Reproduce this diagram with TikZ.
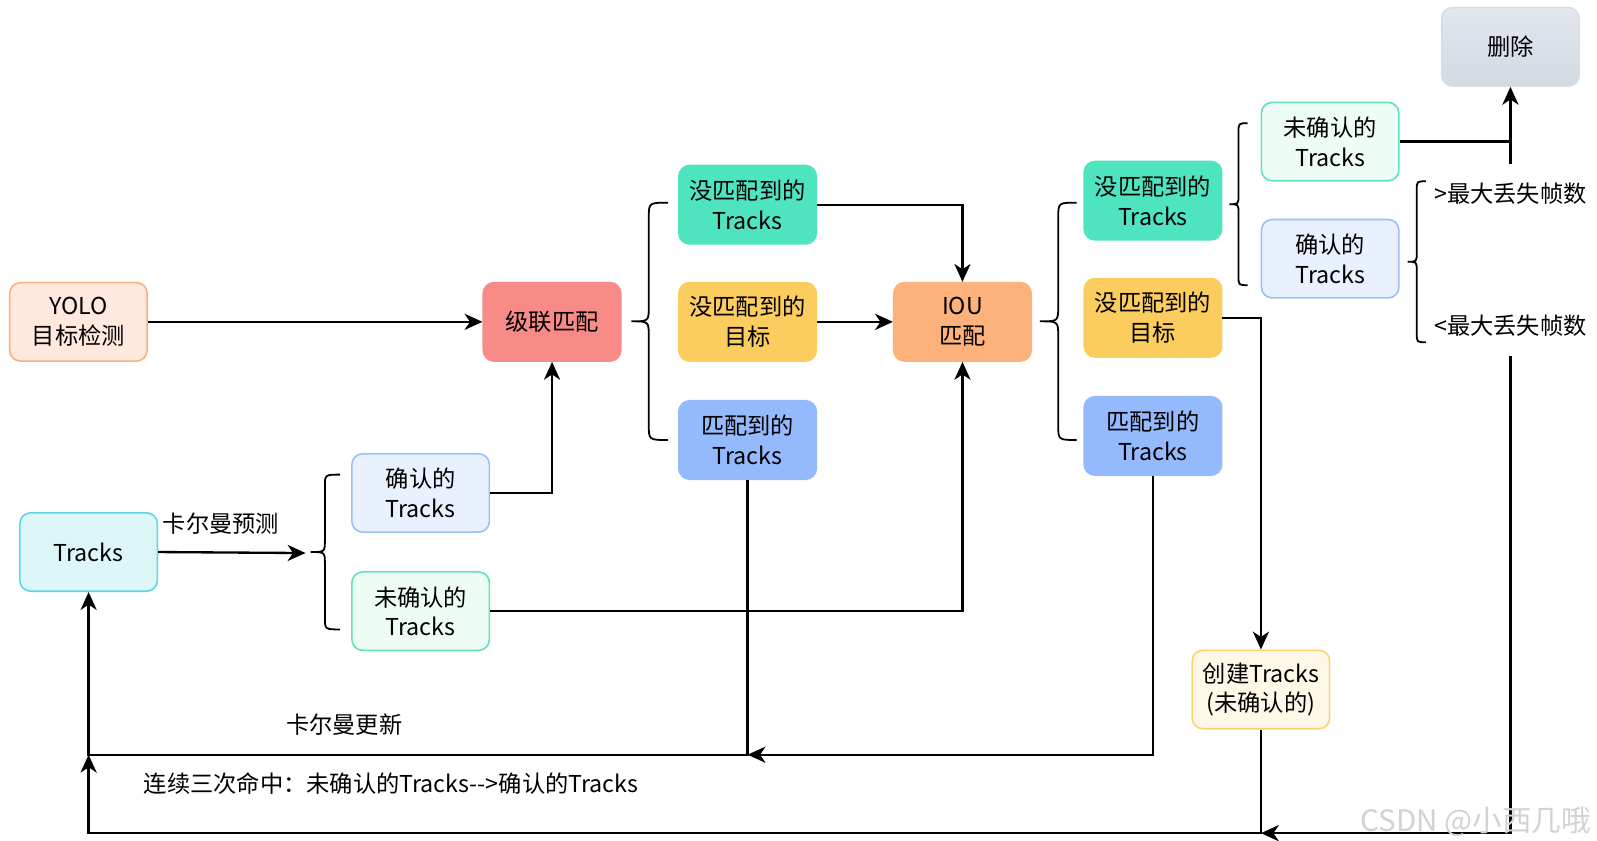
\documentclass[tikz,border=0pt]{standalone}
\usepackage{fontspec}
\newfontfamily\cjk{Noto Sans CJK SC}
\usetikzlibrary{positioning, arrows.meta}

\definecolor{yoloFill}{HTML}{FFE8DE}
\definecolor{yoloLine}{HTML}{F9B07D}
\definecolor{cascFill}{HTML}{F88A88}
\definecolor{greenFill}{HTML}{4DE4BF}
\definecolor{yellowFill}{HTML}{FBCC5E}
\definecolor{blueFill}{HTML}{94B9FD}
\definecolor{iouFill}{HTML}{FCB27A}
\definecolor{mintFill}{HTML}{EEFDF4}
\definecolor{mintLine}{HTML}{60E3B7}
\definecolor{skyFill}{HTML}{EAF1FE}
\definecolor{skyLine}{HTML}{9CBFF8}
\definecolor{cyanFill}{HTML}{DDF7F9}
\definecolor{cyanLine}{HTML}{5BD8E6}
\definecolor{newFill}{HTML}{FFF8E7}
\definecolor{newLine}{HTML}{FCD270}
\definecolor{delTop}{HTML}{E2E7ED}
\definecolor{delBot}{HTML}{D2DAE2}
\definecolor{delLine}{HTML}{D7DEE5}

% curly brace opening to the right: end x, stem x, tip x, top y, bottom y, corner radius
\newcommand{\curlybrace}[6]{%
  \draw[line width=1pt]
    (#1,#4) .. controls (#2,#4) .. (#2,#4+#6)
    -- (#2,{(#4+#5)/2-#6}) .. controls (#2,{(#4+#5)/2}) .. (#3,{(#4+#5)/2})
    .. controls (#2,{(#4+#5)/2}) .. (#2,{(#4+#5)/2+#6})
    -- (#2,#5-#6) .. controls (#2,#5) .. (#1,#5);}

\begin{document}
\begin{tikzpicture}[
  x=0.02cm, y=-0.02cm,
  font=\cjk\fontsize{13}{16.5}\selectfont,
  box/.style={draw, rounded corners=6pt, line width=0.9pt, align=center,
    minimum width=2.7cm, minimum height=1.54cm, inner sep=2pt},
  solid box/.style={box, draw=#1, fill=#1},
  pale box/.style 2 args={box, draw=#2, fill=#1},
  flow/.style={-{Stealth[length=10pt, width=9pt, inset=3pt]}, line width=1.3pt},
  wire/.style={line width=1.3pt},
  label/.style={inner sep=2pt}
]
\useasboundingbox (0,0) rectangle (1568,825);

% --- detection and prediction inputs ---
\node[pale box={yoloFill}{yoloLine}] (yolo) at (77,316) {YOLO\\目标检测};
\node[pale box={cyanFill}{cyanLine}] (trk) at (87,542) {Tracks};
\node[pale box={skyFill}{skyLine}] (cL) at (413,484) {确认的\\Tracks};
\node[pale box={mintFill}{mintLine}] (ucL) at (413,600) {未确认的\\Tracks};

% --- cascade matching and its outputs ---
\node[solid box=cascFill] (casc) at (542,316) {级联匹配};
\node[solid box=greenFill] (utL) at (734,201) {没匹配到的\\Tracks};
\node[solid box=yellowFill] (udL) at (734,316) {没匹配到的\\目标};
\node[solid box=blueFill] (mtL) at (734,432) {匹配到的\\Tracks};

% --- IOU matching and its outputs ---
\node[solid box=iouFill] (iou) at (945,316) {IOU\\匹配};
\node[solid box=greenFill] (utR) at (1132,197) {没匹配到的\\Tracks};
\node[solid box=yellowFill] (udR) at (1132,312) {没匹配到的\\目标};
\node[solid box=blueFill] (mtR) at (1132,428) {匹配到的\\Tracks};

% --- unmatched tracks split ---
\node[pale box={mintFill}{mintLine}] (ucR) at (1306,139) {未确认的\\Tracks};
\node[pale box={skyFill}{skyLine}] (cR) at (1306,254) {确认的\\Tracks};
\node[box, draw=delLine, top color=delTop, bottom color=delBot] (del) at (1483,46) {删除};
\node[pale box={newFill}{newLine}] (new) at (1238,677) {创建Tracks\\(未确认的)};

\node[label] (gt) at (1483,190) {>最大丢失帧数};
\node[label] (lt) at (1483,320) {<最大丢失帧数};

% braces
\curlybrace{334}{319}{305}{466}{618}{12}
\curlybrace{656}{637}{620}{199}{432}{15}
\curlybrace{1057}{1039}{1021}{199}{432}{15}
\curlybrace{1225}{1216}{1207}{121}{280}{9}
\curlybrace{1400}{1391}{1382}{178}{336}{9}

% helper points
\coordinate (predEnd) at (300,543);
\coordinate (upd) at (87,741);
\coordinate (loop) at (87,818);

% connectors
\draw[flow] (yolo) -- (casc);
\draw[flow] (trk.east) -- (predEnd);
\node[label] (predLbl) at (217,514) {卡尔曼预测};
\draw[flow] (cL.east) -| (casc.south);
\draw[flow] (ucL.east) -| (iou.south);
\draw[flow] (utL.east) -| (iou.north);
\draw[flow] (udL) -- (iou);
\draw[flow] (udR.east) -| (new.north);
\draw[wire] (ucR.east) -- (ucR.east -| del.south);
\draw[flow] ([yshift=0.3cm]gt.north) -- (del.south);

% update loops back to Tracks
\draw[flow] (mtL.south) |- (upd) -- (trk.south);
\node[label] (updLbl) at (338,711) {卡尔曼更新};
\draw[flow] (mtR.south) |- (mtL.south |- upd);
\draw[flow] (new.south) |- (loop) -- (upd);
\node[label] (hitLbl) at (384,769) {连续三次命中：未确认的Tracks-->确认的Tracks};
\draw[flow] ([yshift=-0.3cm]lt.south) |- (new.south |- loop);

% watermark
\node[text=gray!35, font=\cjk\fontsize{16.5}{18}\selectfont] (mark) at (1449,807) {CSDN @小西几哦};

\end{tikzpicture}
\end{document}
